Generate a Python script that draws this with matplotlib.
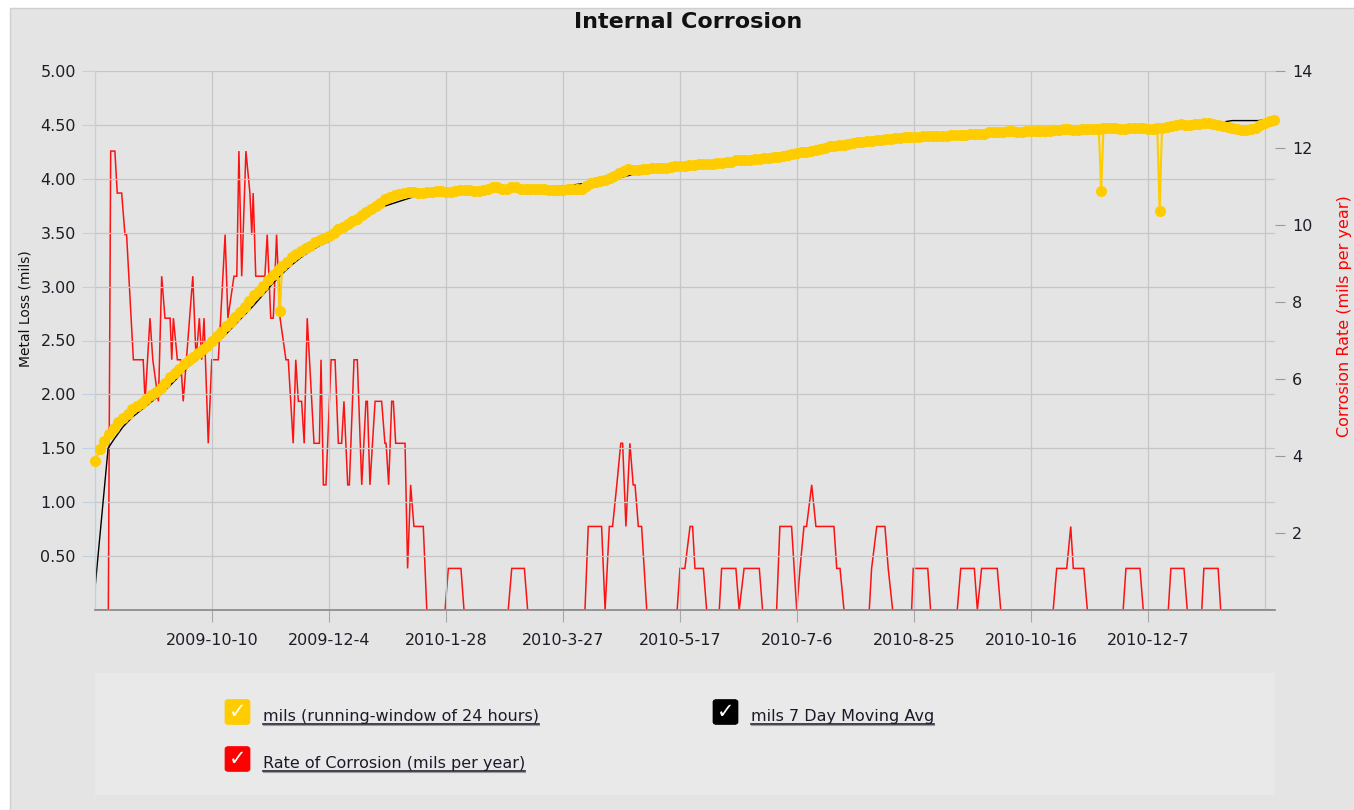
import matplotlib
matplotlib.use("Agg")
import matplotlib.pyplot as plt
from matplotlib.patches import Rectangle, FancyBboxPatch
from matplotlib.lines import Line2D
from matplotlib.ticker import FormatStrFormatter

# ---------------- data ----------------
title = "Internal Corrosion"
left_label = "Metal Loss (mils)"
right_label = "Corrosion Rate (mils per year)"

x_tick_pos = [50, 100, 150, 200, 250, 300, 350, 400, 450]
x_tick_labels = ["2009-10-10", "2009-12-4", "2010-1-28", "2010-3-27", "2010-5-17",
                 "2010-7-6", "2010-8-25", "2010-10-16", "2010-12-7"]
left_ticks = [0.5, 1.0, 1.5, 2.0, 2.5, 3.0, 3.5, 4.0, 4.5, 5.0]
right_ticks = [2, 4, 6, 8, 10, 12, 14]

# mils (running-window of 24 hours) -- sample index / metal loss
yellow_x = [0, 2, 4, 6, 8, 10, 12, 14, 16, 18, 20, 22, 24, 26, 28, 30, 32, 34, 36, 38,
            40, 42, 44, 46, 48, 50, 52, 54, 56, 58, 60, 62, 64, 66, 68, 70, 72, 74, 76, 78,
            79, 80, 82, 84, 86, 88, 90, 92, 94, 96, 98, 100, 102, 104, 106, 108, 110, 112, 114, 116,
            118, 120, 122, 124, 126, 128, 130, 132, 134, 136, 138, 140, 142, 144, 146, 148, 150, 152, 154, 156,
            158, 160, 162, 164, 166, 168, 170, 172, 174, 176, 178, 180, 182, 184, 186, 188, 190, 192, 194, 196,
            198, 200, 202, 204, 206, 208, 210, 212, 214, 216, 218, 220, 222, 224, 226, 228, 230, 232, 234, 236,
            238, 240, 242, 244, 246, 248, 250, 252, 254, 256, 258, 260, 262, 264, 266, 268, 270, 272, 274, 276,
            278, 280, 282, 284, 286, 288, 290, 292, 294, 296, 298, 300, 302, 304, 306, 308, 310, 312, 314, 316,
            318, 320, 322, 324, 326, 328, 330, 332, 334, 336, 338, 340, 342, 344, 346, 348, 350, 352, 354, 356,
            358, 360, 362, 364, 366, 368, 370, 372, 374, 376, 378, 380, 382, 384, 386, 388, 390, 392, 394, 396,
            398, 400, 402, 404, 406, 408, 410, 412, 414, 416, 418, 420, 422, 424, 426, 428, 429, 430, 431, 432,
            434, 436, 438, 440, 442, 444, 446, 448, 450, 452, 454, 455, 456, 458, 460, 462, 464, 466, 468, 470,
            472, 474, 476, 478, 480, 482, 484, 486, 488, 490, 492, 494, 496, 498, 500, 502, 504]
yellow_y = [1.38, 1.49, 1.57, 1.63, 1.69, 1.74, 1.78, 1.82, 1.86, 1.89, 1.92, 1.96, 1.99, 2.02, 2.06, 2.11, 2.16, 2.20, 2.24, 2.28,
            2.32, 2.35, 2.38, 2.42, 2.45, 2.50, 2.54, 2.58, 2.63, 2.67, 2.72, 2.76, 2.81, 2.87, 2.92, 2.96, 3.01, 3.06, 3.11, 3.15,
            2.77, 3.19, 3.23, 3.27, 3.30, 3.33, 3.36, 3.38, 3.41, 3.43, 3.45, 3.47, 3.50, 3.53, 3.55, 3.58, 3.61, 3.63, 3.66, 3.69,
            3.72, 3.75, 3.78, 3.81, 3.83, 3.85, 3.86, 3.87, 3.88, 3.88, 3.87, 3.87, 3.88, 3.88, 3.89, 3.89, 3.88, 3.88, 3.89, 3.90,
            3.90, 3.90, 3.89, 3.89, 3.90, 3.91, 3.92, 3.92, 3.91, 3.91, 3.92, 3.92, 3.91, 3.91, 3.91, 3.91, 3.91, 3.91, 3.90, 3.90,
            3.90, 3.90, 3.91, 3.91, 3.91, 3.91, 3.93, 3.96, 3.97, 3.98, 3.99, 4.01, 4.03, 4.05, 4.07, 4.09, 4.08, 4.08, 4.09, 4.09,
            4.10, 4.10, 4.10, 4.10, 4.11, 4.12, 4.12, 4.12, 4.13, 4.13, 4.14, 4.14, 4.14, 4.14, 4.15, 4.15, 4.16, 4.16, 4.17, 4.17,
            4.17, 4.17, 4.18, 4.18, 4.19, 4.19, 4.20, 4.20, 4.21, 4.22, 4.23, 4.24, 4.25, 4.25, 4.26, 4.27, 4.28, 4.29, 4.30, 4.30,
            4.31, 4.31, 4.32, 4.33, 4.34, 4.34, 4.35, 4.35, 4.36, 4.36, 4.37, 4.37, 4.38, 4.38, 4.39, 4.39, 4.39, 4.39, 4.40, 4.40,
            4.40, 4.40, 4.40, 4.40, 4.41, 4.41, 4.41, 4.41, 4.42, 4.42, 4.42, 4.42, 4.43, 4.43, 4.43, 4.43, 4.44, 4.44, 4.43, 4.43,
            4.44, 4.44, 4.44, 4.44, 4.44, 4.44, 4.45, 4.45, 4.46, 4.46, 4.45, 4.45, 4.46, 4.46, 4.46, 4.46, 4.46, 3.89, 4.47, 4.47,
            4.47, 4.47, 4.46, 4.46, 4.47, 4.47, 4.47, 4.47, 4.46, 4.46, 4.47, 3.70, 4.47, 4.48, 4.49, 4.50, 4.51, 4.50, 4.50, 4.51,
            4.51, 4.52, 4.52, 4.51, 4.50, 4.49, 4.48, 4.47, 4.46, 4.45, 4.45, 4.46, 4.47, 4.50, 4.52, 4.54, 4.55]

# mils 7 Day Moving Avg
black_x = [0, 5.6, 8, 12, 16, 20, 24, 28, 32, 36, 40, 44, 48, 52, 56, 60, 64, 68, 72, 76,
           80, 84, 88, 92, 96, 100, 120, 140, 160, 180, 200, 220, 240, 260, 280, 300, 320,
           340, 360, 380, 400, 420, 440, 460, 480, 486, 497, 504]
black_y = [0.20, 1.50, 1.58, 1.70, 1.79, 1.86, 1.93, 2.00, 2.08, 2.17, 2.26, 2.33, 2.40,
           2.48, 2.56, 2.65, 2.74, 2.83, 2.93, 3.03, 3.12, 3.20, 3.27, 3.33, 3.38, 3.42,
           3.72, 3.86, 3.89, 3.92, 3.93, 3.99, 4.09, 4.13, 4.17, 4.23, 4.30, 4.37, 4.40,
           4.42, 4.44, 4.46, 4.48, 4.50, 4.52, 4.54, 4.54, 4.55]

# Rate of Corrosion (mils per year)
red_x = [0, 5.7, 6.7, 8.5, 9.5, 11.4, 12.8, 13.5, 16.4, 20.6,
         21.4, 23.5, 24.7, 27.1, 28.5, 29.9, 32.1, 32.8, 33.5, 35.2,
         36.6, 37.7, 41.8, 43.2, 44.6, 45.6, 46.6, 48.4, 49.9, 52.7,
         53.7, 55.6, 56.8, 59.4, 60.6, 61.5, 62.7, 64.5, 66.2, 67.0,
         67.6, 68.7, 72.6, 73.6, 75.1, 76.2, 77.6, 79.1, 81.6, 82.6,
         84.7, 85.8, 86.9, 88.3, 89.4, 90.7, 93.6, 95.9, 96.6, 97.6,
         98.7, 100.9, 102.6, 104.0, 105.4, 106.4, 108.0, 108.7, 110.7, 112.1,
         114.0, 115.8, 116.4, 117.5, 119.7, 122.5, 123.9, 124.4, 125.5, 126.8,
         127.5, 128.5, 132.5, 133.6, 134.9, 136.3, 140.3, 141.8, 149.6, 151.0,
         156.4, 157.7, 176.6, 178.1, 183.5, 184.9, 209.4, 210.8, 216.5, 218.0,
         219.8, 221.2, 223.0, 224.7, 225.5, 226.9, 228.6, 230.0, 230.8, 232.2,
         233.6, 235.8, 248.8, 250.0, 252.1, 254.3, 255.4, 256.4, 260.0, 261.4,
         266.8, 267.8, 273.9, 275.3, 277.4, 283.9, 285.3, 291.3, 292.7, 297.7,
         299.9, 301.3, 303.0, 304.1, 306.3, 308.1, 315.8, 317.0, 318.4, 320.1,
         330.9, 331.9, 334.1, 337.6, 339.0, 340.9, 349.0, 349.7, 355.9, 357.1,
         368.5, 370.0, 375.8, 377.1, 378.9, 385.6, 387.1, 409.5, 411.0, 415.3,
         417.0, 418.1, 422.6, 424.1, 439.4, 440.6, 446.6, 448.0, 458.7, 459.8,
         465.4, 466.8, 473.0, 473.9, 480.0, 481.1, 504.3]
red_rate = [0, 0, 11.92, 11.92, 10.83, 10.83, 9.75, 9.75, 6.50, 6.50,
            5.42, 7.58, 6.50, 5.42, 8.67, 7.58, 7.58, 6.50, 7.58, 6.50,
            6.50, 5.42, 8.67, 6.50, 7.58, 6.50, 7.58, 4.33, 6.50, 6.50,
            7.58, 9.75, 7.58, 8.67, 8.67, 11.92, 8.67, 11.92, 10.83, 9.75,
            10.83, 8.67, 8.67, 9.75, 7.58, 7.58, 9.75, 7.58, 6.50, 6.50,
            4.33, 6.50, 5.42, 5.42, 4.33, 7.58, 4.33, 4.33, 6.50, 3.25,
            3.25, 6.50, 6.50, 4.33, 4.33, 5.42, 3.25, 3.25, 6.50, 6.50,
            3.25, 5.42, 5.42, 3.25, 5.42, 5.42, 4.33, 4.33, 3.25, 5.42,
            5.42, 4.33, 4.33, 1.08, 3.25, 2.17, 2.17, 0, 0, 1.08,
            1.08, 0, 0, 1.08, 1.08, 0, 0, 2.17, 2.17, 0,
            2.17, 2.17, 3.25, 4.33, 4.33, 2.17, 4.33, 3.25, 3.25, 2.17,
            2.17, 0, 0, 1.08, 1.08, 2.17, 2.17, 1.08, 1.08, 0,
            0, 1.08, 1.08, 0, 1.08, 1.08, 0, 0, 2.17, 2.17,
            0, 1.08, 2.17, 2.17, 3.25, 2.17, 2.17, 1.08, 1.08, 0,
            0, 1.08, 2.17, 2.17, 1.08, 0, 0, 1.08, 1.08, 0,
            0, 1.08, 1.08, 0, 1.08, 1.08, 0, 0, 1.08, 1.08,
            2.17, 1.08, 1.08, 0, 0, 1.08, 1.08, 0, 0, 1.08,
            1.08, 0, 0, 1.08, 1.08, 0, 0]

legend_labels = ["mils (running-window of 24 hours)", "mils 7 Day Moving Avg",
                 "Rate of Corrosion (mils per year)"]

YELLOW = "#ffcc00"
RED = "#ff0000"
BG = "#e4e4e4"
GRID = "#c6c6c6"

# ---------------- figure ----------------
FW, FH = 1354, 810
def fx(px):
    return px / FW
def fy(py):
    return 1 - py / FH

plt.rcParams["font.family"] = ["DejaVu Sans"]
fig = plt.figure(figsize=(FW / 100, FH / 100), dpi=100, facecolor="white")

# grey panel
fig.add_artist(Rectangle((fx(10), fy(812)), fx(1360) - fx(10), fy(8) - fy(812),
                         transform=fig.transFigure, facecolor=BG, edgecolor="#cfcfcf",
                         lw=1.0, zorder=-10))
# legend panel
fig.add_artist(Rectangle((fx(95), fy(795)), fx(1275) - fx(95), fy(673) - fy(795),
                         transform=fig.transFigure, facecolor="#e9e9e9", edgecolor="none",
                         zorder=-9))

ax = fig.add_axes([fx(95), fy(610), fx(1275) - fx(95), fy(71) - fy(610)])
ax2 = ax.twinx()
ax.set_zorder(ax2.get_zorder() + 1)
ax.patch.set_visible(False)
ax2.patch.set_visible(False)

ax2.plot(red_x, red_rate, color=RED, lw=1.1, alpha=0.92, solid_joinstyle="miter")
ax.plot(black_x, black_y, color="black", lw=1.0, zorder=2)
ax.plot(yellow_x, yellow_y, color=YELLOW, lw=1.5, marker="o", ms=8.0,
        mfc=YELLOW, mec=YELLOW, mew=0, zorder=3, clip_on=False)

ax.set_xlim(0, 504.3)
ax.set_ylim(0, 5)
ax2.set_ylim(0, 14)

ax.set_xticks(x_tick_pos)
ax.set_xticklabels(x_tick_labels)
ax.set_yticks(left_ticks)
ax.yaxis.set_major_formatter(FormatStrFormatter("%.2f"))
ax2.set_yticks(right_ticks)

ax.grid(True, color=GRID, lw=0.9)
ax.axvline(500, color=GRID, lw=0.9, zorder=0)
ax.set_axisbelow(True)

for s in ["top", "right"]:
    ax.spines[s].set_visible(False)
ax.spines["left"].set_color("#bfd1e3")
ax.spines["left"].set_linewidth(1.0)
ax.spines["bottom"].set_color("#8e8e8e")
ax.spines["bottom"].set_linewidth(1.3)
for s in ax2.spines.values():
    s.set_visible(False)

ax.tick_params(axis="y", length=9.4, width=0.8, color="#bfd1e3", pad=4.3,
               labelsize=11.5, labelcolor="#1e1e28")
ax.tick_params(axis="x", length=8.6, width=0.8, color="#a8a8a8", pad=8.0,
               labelsize=11.5, labelcolor="#1e1e28")
ax2.tick_params(axis="y", length=7.2, width=0.8, color="#9a9a9a", pad=5,
                labelsize=11.5, labelcolor="#1e1e28")

# titles / axis labels
fig.text(fx(688), fy(22), title, ha="center", va="center", fontsize=16,
         fontweight="bold", color="#111111")
fig.text(fx(26), fy(309), left_label, ha="center", va="center", rotation=90,
         fontsize=10, color="#111111")
fig.text(fx(1345), fy(316), right_label, ha="center", va="center", rotation=90,
         fontsize=11.5, color=RED)

# legend
legend_items = [(legend_labels[0], YELLOW, 225, 712),
                (legend_labels[1], "#000000", 713, 712),
                (legend_labels[2], RED, 225, 759)]
texts = []
for label, col, px, py in legend_items:
    fig.add_artist(FancyBboxPatch((fx(px), fy(py + 12.5)), fx(25), 25 / FH,
                                  boxstyle="round,pad=0,rounding_size=0.003",
                                  transform=fig.transFigure, facecolor=col,
                                  edgecolor=col, lw=0.5, zorder=5))
    fig.text(fx(px + 12.5), fy(py), "\u2713", ha="center", va="center",
             fontsize=15, color="white", fontweight="bold", zorder=6)
    t = fig.text(fx(px + 38), fy(py + 9), label, ha="left", va="baseline",
                 fontsize=11.5, color="#1a1a2a", zorder=6)
    texts.append((t, py + 9))

fig.canvas.draw()
r = fig.canvas.get_renderer()
for t, base in texts:
    bb = t.get_window_extent(r)
    y = fy(base + 3)
    fig.add_artist(Line2D([bb.x0 / FW, bb.x1 / FW], [y, y], transform=fig.transFigure,
                          color="#222233", lw=1.2, zorder=6))
    fig.add_artist(Line2D([bb.x0 / FW, bb.x1 / FW], [y - 1.3 / FH, y - 1.3 / FH],
                          transform=fig.transFigure, color="#9a9a9a", lw=0.8, zorder=6))

fig.savefig("out.png", dpi=100, facecolor="white")
